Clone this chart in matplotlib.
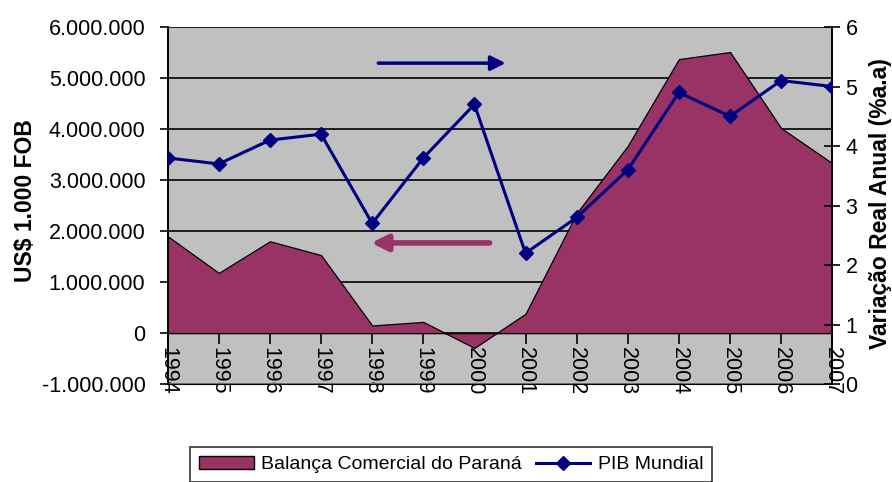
import matplotlib
matplotlib.use('Agg')
import matplotlib.pyplot as plt
from matplotlib.patches import Patch
from matplotlib.lines import Line2D
import numpy as np

# ---- data ----
years = ['1994', '1995', '1996', '1997', '1998', '1999', '2000',
         '2001', '2002', '2003', '2004', '2005', '2006', '2007']
balanca = [1900000, 1180000, 1800000, 1530000, 150000, 220000, -290000,
           380000, 2350000, 3670000, 5370000, 5510000, 4020000, 3330000]
pib = [3.8, 3.7, 4.1, 4.2, 2.7, 3.8, 4.7, 2.2, 2.8, 3.6, 4.9, 4.5, 5.1, 5.0]

left_ticks = [-1000000, 0, 1000000, 2000000, 3000000, 4000000, 5000000, 6000000]
left_labels = ['-1.000.000', '0', '1.000.000', '2.000.000', '3.000.000',
               '4.000.000', '5.000.000', '6.000.000']
right_ticks = [0, 1, 2, 3, 4, 5, 6]

AREA = '#993366'
NAVY = '#000080'
FS = 15.5
plt.rcParams['font.family'] = ['Liberation Sans', 'DejaVu Sans']

fig = plt.figure(figsize=(8.92, 4.82), dpi=100)
ax = fig.add_axes([0.188, 0.203, 0.745, 0.741])
ax.set_facecolor('#C0C0C0')
x = np.arange(len(years))

ax.fill_between(x, 0, balanca, facecolor=AREA, edgecolor='black', lw=0.9, zorder=2)
ax.set_ylim(-1000000, 6000000)
ax.set_xlim(0, len(years) - 1)
ax.set_yticks(left_ticks)
ax.set_yticklabels(left_labels, fontsize=FS)
ax.yaxis.grid(True, color='black', lw=1.2)
ax.set_axisbelow(True)
ax.axhline(-1000000, color='#808080', lw=1.2, zorder=1)

ax.spines['bottom'].set_position(('data', 0))
ax.spines['bottom'].set_zorder(3)
ax.spines['top'].set_visible(False)
ax.set_xticks(x)
ax.set_xticklabels(years, rotation=270, fontsize=FS, va='top', ha='center')
ax.tick_params(axis='x', direction='out', length=8, width=1.2, pad=2)
ax.tick_params(axis='y', direction='out', length=6, width=1.2, pad=10)
ax.set_ylabel('US$ 1.000 FOB', fontsize=16.5, fontweight='bold')
ax.yaxis.set_label_coords(-0.197, 0.515)

ax2 = ax.twinx()
ax2.plot(x, pib, color=NAVY, lw=2.2, marker='D', markersize=7, zorder=4)
ax2.set_ylim(0, 6)
ax2.set_yticks(right_ticks)
ax2.tick_params(axis='y', direction='inout', length=11, width=1.2, labelsize=FS, pad=4)
ax2.set_ylabel('Variação Real Anual (%a.a)', fontsize=16.5, fontweight='bold',
               rotation=90)
ax2.yaxis.set_label_coords(1.055, 0.505)
ax2.spines['top'].set_visible(False)
for a in (ax, ax2):
    for s in ('left', 'right'):
        a.spines[s].set_linewidth(1.2)

# direction arrows
ax.annotate('', xy=(0.570, 0.869), xytext=(0.421, 0.869), xycoords='figure fraction',
            arrowprops=dict(arrowstyle='-|>', color=NAVY, lw=2.5, mutation_scale=22))
ax.annotate('', xy=(0.413, 0.496), xytext=(0.552, 0.496), xycoords='figure fraction',
            arrowprops=dict(arrowstyle='-|>', color=AREA, lw=4, mutation_scale=24))

handles = [Patch(facecolor=AREA, edgecolor='black', lw=1),
           Line2D([], [], color=NAVY, lw=2.2, marker='D', markersize=7)]
leg = fig.legend(handles, ['Balança Comercial do Paraná', 'PIB Mundial'], ncol=2,
                 loc='upper center', bbox_to_anchor=(0.506, 0.0726), fontsize=14,
                 frameon=True, fancybox=False, edgecolor='black', handlelength=2.8,
                 columnspacing=0.7, handletextpad=0.4, borderpad=0.45,
                 borderaxespad=0)
leg.get_frame().set_linewidth(1.2)

fig.savefig('out.png', dpi=100)
